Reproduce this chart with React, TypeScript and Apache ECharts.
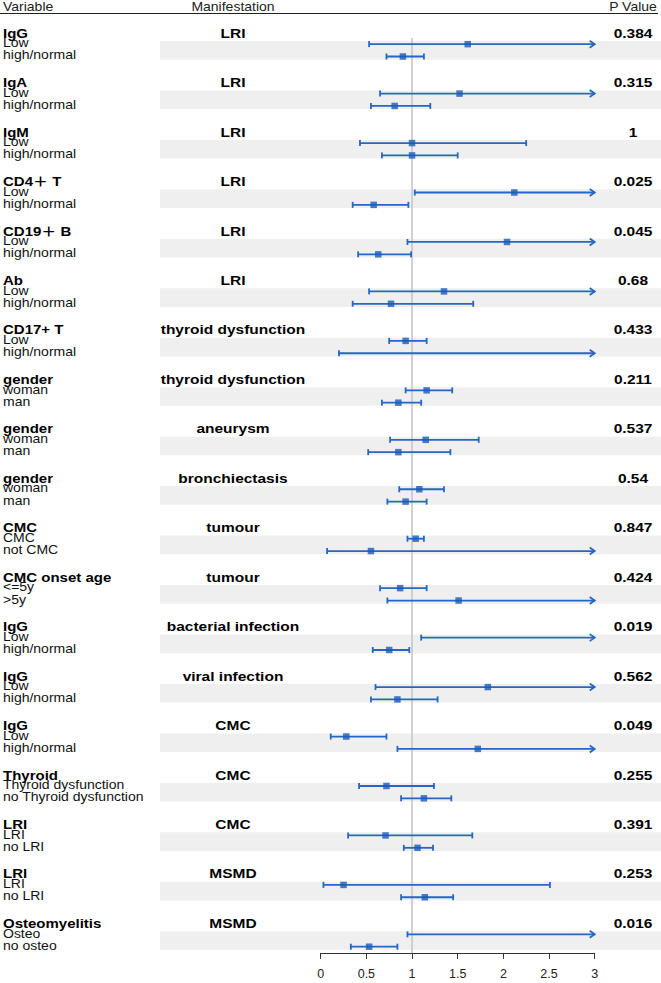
import React, { useEffect, useRef } from "react";
import * as echarts from "echarts";

// ---------- data ----------
const variables = [
  "IgG", "IgA", "IgM", "CD4＋ T", "CD19＋ B", "Ab", "CD17+ T", "gender", "gender", "gender",
  "CMC", "CMC onset age", "IgG", "IgG", "IgG", "Thyroid", "LRI", "LRI", "Osteomyelitis",
];
const manifestations = [
  "LRI", "LRI", "LRI", "LRI", "LRI", "LRI", "thyroid dysfunction", "thyroid dysfunction", "aneurysm",
  "bronchiectasis", "tumour", "tumour", "bacterial infection", "viral infection", "CMC", "CMC", "CMC",
  "MSMD", "MSMD",
];
const pValues = [
  "0.384", "0.315", "1", "0.025", "0.045", "0.68", "0.433", "0.211", "0.537", "0.54",
  "0.847", "0.424", "0.019", "0.562", "0.049", "0.255", "0.391", "0.253", "0.016",
];
const level1 = [
  "Low", "Low", "Low", "Low", "Low", "Low", "Low", "woman", "woman", "woman",
  "CMC", "<=5y", "Low", "Low", "Low", "Thyroid dysfunction", "LRI", "LRI", "Osteo",
];
const level2 = [
  "high/normal", "high/normal", "high/normal", "high/normal", "high/normal", "high/normal", "high/normal",
  "man", "man", "man", "not CMC", ">5y", "high/normal", "high/normal", "high/normal",
  "no Thyroid dysfunction", "no LRI", "no LRI", "no osteo",
];
// null upper limit / estimate = beyond the axis (drawn as arrow / not shown)
const est1 = [1.61, 1.52, 1.0, 2.12, 2.04, 1.35, 0.93, 1.16, 1.15, 1.08, 1.04, 0.87, null, 1.83, 0.28, 0.72, 0.71, 0.25, null];
const lo1 = [0.53, 0.65, 0.43, 1.03, 0.95, 0.53, 0.75, 0.93, 0.76, 0.86, 0.95, 0.65, 1.1, 0.6, 0.11, 0.42, 0.3, 0.03, 0.95];
const hi1 = [null, null, 2.25, null, null, null, 1.16, 1.44, 1.73, 1.35, 1.13, 1.16, null, null, 0.72, 1.24, 1.66, 2.51, null];
const est2 = [0.9, 0.81, 1.0, 0.58, 0.63, 0.77, null, 0.85, 0.85, 0.93, 0.55, 1.51, 0.75, 0.84, 1.72, 1.13, 1.06, 1.14, 0.53];
const lo2 = [0.72, 0.55, 0.67, 0.35, 0.41, 0.35, 0.2, 0.67, 0.52, 0.73, 0.07, 0.73, 0.57, 0.55, 0.84, 0.88, 0.91, 0.88, 0.33];
const hi2 = [1.13, 1.2, 1.5, 0.96, 0.99, 1.67, null, 1.1, 1.42, 1.16, null, null, 0.97, 1.28, null, 1.43, 1.23, 1.45, 0.84];
const xTicks = [0, 0.5, 1, 1.5, 2, 2.5, 3];
const refValue = 1;

// ---------- helpers ----------
const X_MAX = xTicks[xTicks.length - 1];
const ROWS_PER_BLOCK = 4;
const nBlocks = variables.length;
const BLUE = "#2467c4";
const SQUARE = "#1a5bb8";
const FF = '"Liberation Sans", Arial, "Noto Sans CJK SC", sans-serif';

const barData: number[][] = [];
const pointData: number[][] = [];
for (let k = 0; k < nBlocks; k++) {
  const rows = [
    [est1[k], lo1[k], hi1[k], k * ROWS_PER_BLOCK + 1],
    [est2[k], lo2[k], hi2[k], k * ROWS_PER_BLOCK + 2],
  ];
  rows.forEach(([e, l, h, y]) => {
    barData.push([l as number, h == null ? X_MAX : (h as number), y as number, h == null ? 1 : 0]);
    if (e != null) pointData.push([e as number, y as number]);
  });
}
const blockData = variables.map((_, k) => [0, k * ROWS_PER_BLOCK]);

export default function App() {
  const ref = useRef<HTMLDivElement>(null);
  useEffect(() => {
    if (!ref.current) return;
    const chart = echarts.init(ref.current, null, { renderer: "svg" });
    const option: any = {
      animation: false,
      backgroundColor: "#fff",
      textStyle: { fontFamily: FF },
      grid: { left: 320.7, right: 66.3, top: 25.6, bottom: 30.1 },
      xAxis: {
        type: "value",
        position: "bottom",
        min: 0,
        max: X_MAX,
        interval: 0.5,
        splitLine: { show: false },
        axisLine: { show: true, onZero: false, lineStyle: { color: "#333", width: 1 } },
        axisTick: { show: true, length: 6, lineStyle: { color: "#333", width: 1 } },
        axisLabel: { color: "#222", fontSize: 12.5, margin: 15, fontFamily: FF },
      },
      yAxis: {
        type: "value",
        inverse: true,
        min: -0.5,
        max: nBlocks * ROWS_PER_BLOCK - 1.5,
        show: false,
      },
      graphic: [
        {
          type: "text", x: 3, y: 7, scaleY: 0.86,
          style: { text: "Variable", font: `14px ${FF}`, fill: "#222", textAlign: "left", textVerticalAlign: "middle" },
        },
        {
          type: "text", x: 233, y: 7, scaleY: 0.86,
          style: { text: "Manifestation", font: `14px ${FF}`, fill: "#222", textAlign: "center", textVerticalAlign: "middle" },
        },
        {
          type: "text", x: 633, y: 7, scaleY: 0.86,
          style: { text: "P Value", font: `14px ${FF}`, fill: "#222", textAlign: "center", textVerticalAlign: "middle" },
        },
        {
          type: "line", shape: { x1: 0, y1: 13.5, x2: 658, y2: 13.5 },
          style: { stroke: "#222", lineWidth: 1 },
        },
      ],
      series: [
        {
          type: "custom",
          z: 0,
          clip: false,
          silent: true,
          data: blockData,
          renderItem: (params: any, api: any) => {
            const y = api.value(1) + 1.5;
            const c = api.coord([0, y]);
            const h = api.size([0, 1.51])[1];
            return {
              type: "rect",
              shape: { x: 160, y: c[1] - h / 2, width: 501, height: h },
              style: { fill: "#efefef" },
            };
          },
        },
        {
          type: "line",
          z: 1,
          silent: true,
          symbol: "none",
          data: [[refValue, 0.5], [refValue, nBlocks * ROWS_PER_BLOCK - 1.5]],
          lineStyle: { color: "#c6c6c6", width: 1.6 },
        },
        {
          type: "custom",
          z: 2,
          clip: false,
          silent: true,
          data: barData,
          encode: { x: [0, 1], y: 2 },
          renderItem: (params: any, api: any) => {
            const lo = api.coord([api.value(0), api.value(2)]);
            const hi = api.coord([api.value(1), api.value(2)]);
            const arrow = api.value(3) === 1;
            const style = { stroke: BLUE, lineWidth: 1.8, fill: "none" };
            const children: any[] = [
              { type: "line", shape: { x1: lo[0], y1: lo[1], x2: hi[0], y2: hi[1] }, style },
              { type: "line", shape: { x1: lo[0], y1: lo[1] - 3, x2: lo[0], y2: lo[1] + 3 }, style },
            ];
            if (arrow) {
              children.push({
                type: "polyline",
                shape: { points: [[hi[0] - 5, hi[1] - 3.5], [hi[0], hi[1]], [hi[0] - 5, hi[1] + 3.5]] },
                style,
              });
            } else {
              children.push({ type: "line", shape: { x1: hi[0], y1: hi[1] - 3, x2: hi[0], y2: hi[1] + 3 }, style });
            }
            return { type: "group", children };
          },
        },
        {
          type: "scatter",
          z: 3,
          silent: true,
          symbol: "rect",
          symbolSize: 6.5,
          itemStyle: { color: SQUARE },
          data: pointData,
        },
        {
          type: "custom",
          z: 4,
          clip: false,
          silent: true,
          data: blockData,
          renderItem: (params: any, api: any) => {
            const k = params.dataIndex;
            const base = api.value(1);
            const yH = api.coord([0, base])[1] + 1.4;
            const y1 = api.coord([0, base + 1])[1] - 1;
            const y2 = api.coord([0, base + 2])[1] - 1.2;
            const bold = (t: string, x: number, y: number, align: string, size: number) => ({
              type: "text", x, y, scaleY: 0.84,
              style: { text: t, font: `bold ${size}px ${FF}`, fill: "#000", textAlign: align, textVerticalAlign: "middle" },
            });
            const norm = (t: string, x: number, y: number) => ({
              type: "text", x, y, scaleY: 0.87,
              style: { text: t, font: `14px ${FF}`, fill: "#111", textAlign: "left", textVerticalAlign: "middle" },
            });
            return {
              type: "group",
              children: [
                bold(variables[k], 3, yH, "left", 15),
                norm(level1[k], 3, y1),
                norm(level2[k], 3, y2),
                bold(manifestations[k], 233, yH, "center", 15.5),
                bold(pValues[k], 633, yH, "center", 15.5),
              ],
            };
          },
        },
      ],
    };
    chart.setOption(option);
    return () => chart.dispose();
  }, []);
  return (
    <div
      ref={ref}
      style={{ position: "fixed", left: 0, top: 0, width: 661, height: 983, background: "#fff" }}
    />
  );
}
